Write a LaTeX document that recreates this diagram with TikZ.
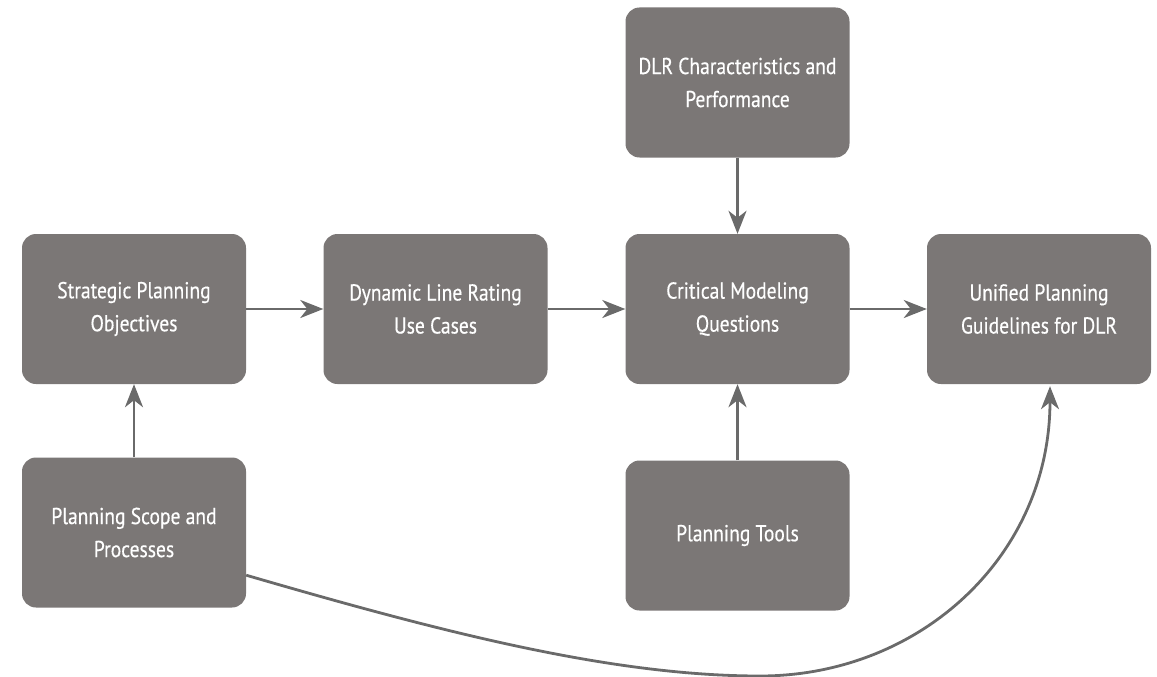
\documentclass[tikz,border=0pt]{standalone}
\usepackage{fontspec}
\setmainfont{PT Sans}[FakeStretch=0.85,FakeBold=0.4]
\usetikzlibrary{arrows.meta,calc}
\definecolor{boxfill}{HTML}{7B7776}
\definecolor{linkgray}{HTML}{6A6A6A}
\tikzset{
  stage/.style={rectangle, rounded corners=14pt, fill=boxfill, text=white,
    minimum width=224pt, minimum height=150pt, align=center, inner sep=0pt,
    font=\fontsize{23}{33}\selectfont},
  link/.style={draw=linkgray, line width=2.8pt,
    -{Stealth[length=23pt,width=18pt,inset=7pt]}}
}
\begin{document}
\begin{tikzpicture}[x=1pt,y=-1pt]
\useasboundingbox (0,0) rectangle (1157,677);

% main row
\node[stage] (strat)   at (134,309)    {Strategic Planning\\Objectives};
\node[stage] (usecase) at (435.5,309)  {Dynamic Line Rating\\Use Cases};
\node[stage] (crit)    at (737.5,309)  {Critical Modeling\\Questions};
\node[stage] (unified) at (1039,309)   {Unified Planning\\Guidelines for DLR};
% feeders
\node[stage] (dlrchar) at (737.5,82.5) {DLR Characteristics and\\Performance};
\node[stage] (scope)   at (134,532.5)  {Planning Scope and\\Processes};
\node[stage] (tools)   at (737.5,535.5){Planning Tools};

% straight links
\draw[link] (strat.east)   -- (usecase.west);
\draw[link] (usecase.east) -- (crit.west);
\draw[link] (crit.east)    -- (unified.west);
\draw[link] (dlrchar.south) -- (crit.north);
\draw[link] (tools.north)   -- (crit.south);
\draw[link] (scope.north)   -- (strat.south);

% long sweep from the scope box up to the guidelines
\coordinate (sweepstart) at ($(scope.south east)+(0,-32.5)$);
\coordinate (sweeplow) at (760,676);
\coordinate (sweepend) at ($(unified.south)+(11,2)$);
\draw[link] (sweepstart) .. controls (438,631) and (610,676) .. (sweeplow)
  .. controls (920,676) and (1050,556) .. (sweepend);
\end{tikzpicture}
\end{document}
